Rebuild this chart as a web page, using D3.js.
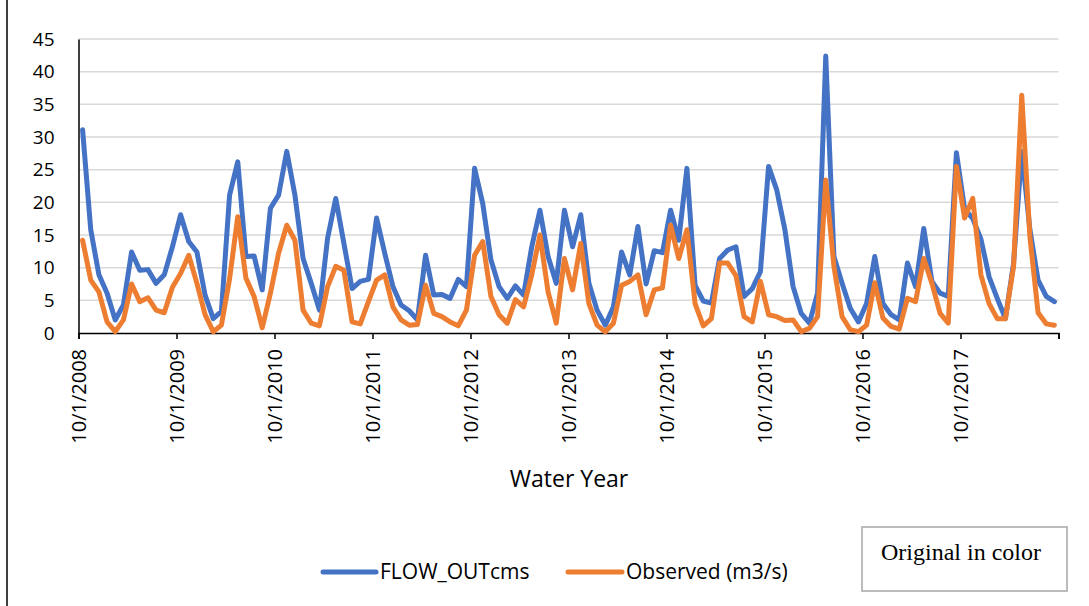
<!DOCTYPE html>
<html>
<head>
<meta charset="utf-8">
<script src="https://cdn.jsdelivr.net/npm/d3@7"></script>
<style>
  html, body { margin: 0; padding: 0; background: #fff; }
  svg { display: block; }
</style>
</head>
<body>
<svg id="chart" width="1089" height="606"></svg>
<script>
// Monthly values, Oct 2008 .. Sep 2018 (120 months)
const flowOut = [
  31.1, 15.8, 8.9, 6.1, 2.0, 4.3, 12.4, 9.6, 9.7, 7.6, 8.9, 13.2,
  18.1, 14.0, 12.4, 5.8, 2.2, 3.3, 21.1, 26.2, 11.7, 11.8, 6.6, 19.1,
  21.1, 27.8, 21.1, 11.4, 7.6, 3.5, 14.5, 20.6, 13.7, 6.8, 7.9, 8.2,
  17.6, 12.2, 7.1, 4.3, 3.4, 2.0, 11.9, 5.8, 5.9, 5.3, 8.2, 7.1,
  25.2, 19.8, 11.2, 7.1, 5.3, 7.2, 5.8, 13.2, 18.8, 11.7, 7.6, 18.8,
  13.2, 18.1, 7.6, 3.5, 1.2, 4.0, 12.4, 8.9, 16.3, 7.5, 12.6, 12.3,
  18.8, 14.2, 25.2, 7.3, 4.9, 4.6, 11.4, 12.7, 13.2, 5.6, 6.8, 9.4,
  25.5, 21.9, 15.8, 7.1, 3.0, 1.5, 6.1, 42.4, 11.7, 7.6, 3.8, 1.7,
  4.5, 11.7, 4.5, 2.8, 2.0, 10.7, 7.1, 16.0, 7.9, 6.1, 5.6, 27.6,
  19.0, 17.5, 14.4, 8.6, 5.3, 2.2, 10.7, 27.8, 15.8, 8.1, 5.6, 4.8
];
const observed = [
  14.2, 8.1, 6.3, 1.7, 0.2, 2.0, 7.5, 4.8, 5.4, 3.5, 3.1, 7.0,
  9.1, 11.9, 7.6, 2.8, 0.2, 1.2, 8.3, 17.8, 8.4, 5.6, 0.8, 6.1,
  12.2, 16.5, 14.2, 3.5, 1.5, 1.1, 7.1, 10.2, 9.6, 1.7, 1.4, 4.8,
  8.1, 8.9, 4.0, 2.0, 1.2, 1.3, 7.3, 3.0, 2.5, 1.7, 1.1, 3.5,
  11.9, 14.0, 5.6, 2.8, 1.5, 5.1, 4.0, 8.9, 15.0, 6.3, 1.5, 11.4,
  6.6, 13.7, 4.5, 1.2, 0.2, 1.5, 7.3, 7.9, 8.9, 2.8, 6.6, 6.9,
  16.5, 11.4, 15.8, 4.5, 1.1, 2.2, 10.7, 10.7, 8.8, 2.5, 1.7, 7.9,
  2.8, 2.5, 1.9, 2.0, 0.2, 0.7, 2.5, 23.4, 10.2, 2.5, 0.5, 0.2,
  1.2, 7.7, 2.3, 1.0, 0.6, 5.3, 4.8, 11.4, 7.6, 3.0, 1.5, 25.5,
  17.6, 20.6, 8.9, 4.5, 2.2, 2.2, 10.2, 36.4, 14.7, 3.1, 1.4, 1.2
];
const xTickLabels = ["10/1/2008", "10/1/2009", "10/1/2010", "10/1/2011", "10/1/2012",
                     "10/1/2013", "10/1/2014", "10/1/2015", "10/1/2016", "10/1/2017", ""];
const yTicks = [0, 5, 10, 15, 20, 25, 30, 35, 40, 45];
const seriesNames = ["FLOW_OUTcms", "Observed (m3/s)"];
const xTitle = "Water Year";
const noteText = "Original in color";

const svg = d3.select("#chart");
const font = "'Open Sans', sans-serif";
const blue = "#4472C4", orange = "#ED7D31";

const x = d3.scaleLinear().domain([0, 120]).range([78.5, 1058.5]);
const y = d3.scaleLinear().domain([0, 45]).range([333, 39]);

// outer border line on left
svg.append("line").attr("x1", 7).attr("x2", 7).attr("y1", 0).attr("y2", 606)
  .attr("stroke", "#000").attr("stroke-width", 1.5);

// gridlines
svg.append("g").selectAll("line").data(yTicks.filter(d => d > 0)).join("line")
  .attr("x1", x(0)).attr("x2", x(120))
  .attr("y1", d => y(d)).attr("y2", d => y(d))
  .attr("stroke", "#D9D9D9").attr("stroke-width", 1.5);

// y axis labels
const yAxis = svg.append("g").attr("transform", `translate(${x(0)},0)`)
  .call(d3.axisLeft(y).tickValues(yTicks).tickSize(0).tickPadding(24));
yAxis.select(".domain").attr("stroke", "#000").attr("stroke-width", 1.5);
yAxis.selectAll("text").attr("font-family", font).attr("font-size", 19).attr("fill", "#000");

// x axis
const tickVals = d3.range(0, 121, 12);
const xAxis = svg.append("g").attr("transform", `translate(0,${y(0)})`)
  .call(d3.axisBottom(x).tickValues(tickVals).tickSizeOuter(0).tickSize(6)
        .tickFormat((d, i) => xTickLabels[i]));
xAxis.select(".domain").attr("stroke", "#000").attr("stroke-width", 1.5);
xAxis.selectAll(".tick line").attr("stroke", "#000").attr("stroke-width", 1.5);
xAxis.selectAll("text")
  .attr("font-family", font).attr("font-size", 20).attr("fill", "#000")
  .attr("transform", "rotate(-90)")
  .attr("text-anchor", "end")
  .attr("x", -16).attr("y", 0).attr("dy", "0.35em");

// lines
const line = d3.line().x((d, i) => x(i + 0.5)).y(d => y(d)).curve(d3.curveLinear);
svg.append("path").datum(flowOut).attr("d", line)
  .attr("fill", "none").attr("stroke", blue).attr("stroke-width", 5)
  .attr("stroke-linejoin", "round").attr("stroke-linecap", "round");
svg.append("path").datum(observed).attr("d", line)
  .attr("fill", "none").attr("stroke", orange).attr("stroke-width", 5)
  .attr("stroke-linejoin", "round").attr("stroke-linecap", "round");

// x title
svg.append("text").attr("x", 569).attr("y", 487).attr("text-anchor", "middle")
  .attr("font-family", font).attr("font-size", 23).attr("fill", "#000").text(xTitle);

// legend
const legend = [
  { name: seriesNames[0], color: blue, x1: 323, x2: 376, tx: 380 },
  { name: seriesNames[1], color: orange, x1: 568, x2: 622, tx: 626 }
];
const lg = svg.append("g");
legend.forEach(l => {
  lg.append("line").attr("x1", l.x1).attr("x2", l.x2).attr("y1", 572).attr("y2", 572)
    .attr("stroke", l.color).attr("stroke-width", 5).attr("stroke-linecap", "round");
  lg.append("text").attr("x", l.tx).attr("y", 579)
    .attr("font-family", font).attr("font-size", 21).attr("fill", "#000").text(l.name);
});

// note box
svg.append("rect").attr("x", 862).attr("y", 527).attr("width", 205).attr("height", 64)
  .attr("fill", "#fff").attr("stroke", "#A6A6A6").attr("stroke-width", 1.5);
svg.append("text").attr("x", 881).attr("y", 560)
  .attr("font-family", "'Liberation Serif', 'Times New Roman', serif").attr("font-size", 24)
  .attr("fill", "#000").text(noteText);
</script>
</body>
</html>
